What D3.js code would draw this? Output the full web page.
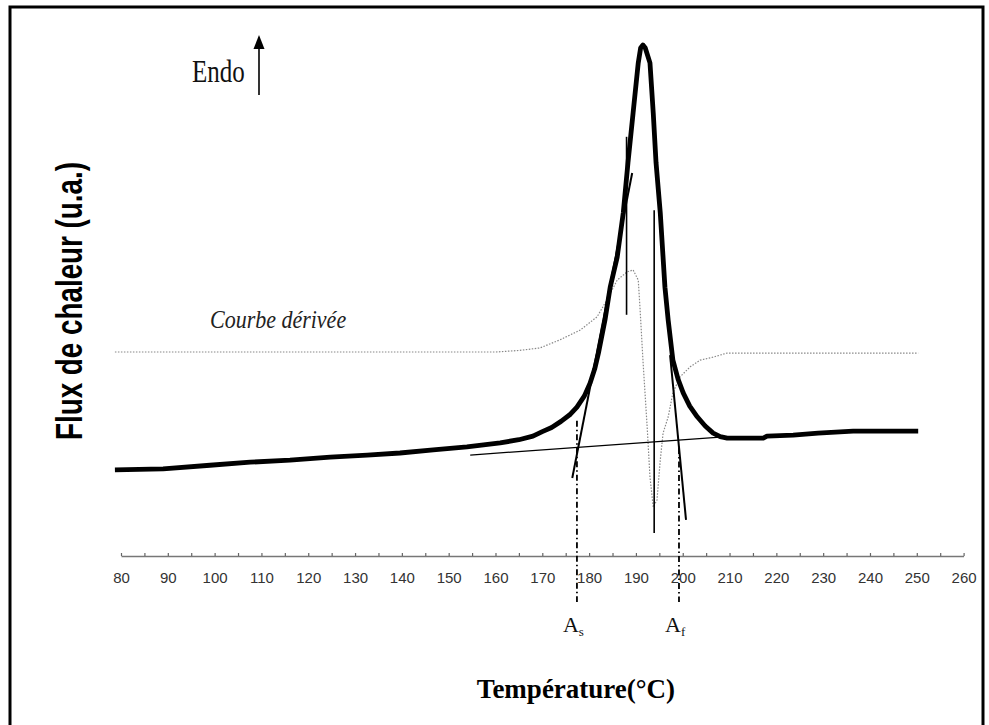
<!DOCTYPE html>
<html><head><meta charset="utf-8">
<script src="https://cdn.jsdelivr.net/npm/d3@7"></script>
<style>body{margin:0;background:#fff}svg{display:block}</style>
</head><body>
<svg id="c" width="989" height="725"></svg>
<script>
// ---- data ----
const tickLabels = [80,90,100,110,120,130,140,150,160,170,180,190,200,210,220,230,240,250,260];
const minorTicks = [85,95,105,115,125,135,145,155,165,175,185,195,205,215,225,235,245,255];

// DSC heat-flow curve (thick)
const mainT = [78.7,89,99,107.6,116.1,124.7,132.6,139.6,146.7,153.9,161,165,168,170,172,174,176,177.4,179,180.2,181.2,182,183.4,184.5,186,187.3,188.3,189.4,190.5,191,191.5,192,193,193.7,194.3,195.2,196.2,196.9,197.9,199,200.1,201.5,203.1,204.8,206.5,208,209.5,212.3,217.2,218,223.6,228.9,236.4,250.3];
const mainV = [16.7,16.9,17.6,18.2,18.6,19.2,19.6,20.0,20.6,21.2,22.0,22.6,23.3,24.2,25.0,26.2,27.6,29.0,31.2,33.7,36.5,39.6,46.1,52.5,58.4,67.1,76.9,86.7,96.5,99.4,100,99.4,96.5,86.7,76.9,67.1,52.5,46.0,38.2,34.5,31.8,29.2,27.1,25.3,23.9,23.2,22.9,22.9,22.9,23.3,23.5,23.9,24.3,24.3];

// derivative curve (dotted)
const derivT = [78.7,160,165,169.5,173.8,178.1,181.7,183.8,186,188.1,189.4,190.5,190.9,191.5,192.4,193,193.7,194.5,195.2,195.8,196.9,197.9,199.4,201.6,203.7,206.5,209.5,212.3,250.3];
const derivV = [39.8,39.8,40.1,40.6,42.2,44.1,46.7,50.0,53.9,55.5,55.9,53.9,48.0,38.2,25.1,15.3,9.4,10.8,18.6,23.9,27.1,31.8,34.9,36.9,38.2,38.8,39.6,39.6,39.6];

// construction lines [T1, v1, T2, v2]
const baselineSeg = [154.6, 19.6, 208, 23.1];
const onsetTangent = [176.4, 15.1, 189.2, 74.9];
const endTangent = [197.3, 39.2, 200.7, 6.9];
const vertLines = [[188, 47.1, 188, 82], [193.9, 4.3, 193.9, 67.6]];
const markerT = [177.4, 199.2];           // As, Af
const markerTop = [26.3, 21.0];
const markerBottom = -9.2;
const markerNames = ["A", "A"];
const markerSubs = ["s", "f"];

// ---- drawing ----
const svg = d3.select("#c");
const x = d3.scaleLinear().domain([80, 260]).range([121, 963.6]);
const y = d3.scaleLinear().domain([0, 100]).range([555, 45]);

svg.append("rect").attr("x", 10).attr("y", 7).attr("width", 973).attr("height", 740)
  .attr("fill", "#fff").attr("stroke", "#000").attr("stroke-width", 3);

// x axis
const axisY = 556;
const allTicks = tickLabels.concat(minorTicks).sort((a,b)=>a-b);
const ax = svg.append("g").attr("transform", `translate(0,${axisY})`)
  .call(d3.axisBottom(x).tickValues(allTicks).tickSizeInner(-3).tickSizeOuter(0).tickPadding(16)
    .tickFormat(d => tickLabels.includes(d) ? d : ""));
ax.select(".domain").attr("stroke", "#777").attr("stroke-width", 1.5);
ax.selectAll(".tick line").attr("stroke", "#666").attr("stroke-width", 1.2);
ax.selectAll(".tick text").attr("fill", "#333").style("font-family", "Liberation Sans, Arial, sans-serif")
  .style("font-size", "15px");

const line = d3.line().x(d => x(d[0])).y(d => y(d[1]));

// derivative curve
svg.append("path").datum(derivT.map((t,i)=>[t, derivV[i]]))
  .attr("d", line).attr("fill", "none").attr("stroke", "#888").attr("stroke-width", 1.2)
  .attr("stroke-dasharray", "1.5,1.5");

function seg(s, w, dash) {
  const p = svg.append("line").attr("x1", x(s[0])).attr("y1", y(s[1])).attr("x2", x(s[2])).attr("y2", y(s[3]))
    .attr("stroke", "#000").attr("stroke-width", w);
  if (dash) p.attr("stroke-dasharray", dash);
  return p;
}
seg(baselineSeg, 1.3);
seg(onsetTangent, 2);
seg(endTangent, 2);
vertLines.forEach(v => seg(v, 1.6));

// main curve
svg.append("path").datum(mainT.map((t,i)=>[t, mainV[i]]))
  .attr("d", line).attr("fill", "none").attr("stroke", "#000").attr("stroke-width", 4.8)
  .attr("stroke-linejoin", "round");

// As / Af markers
markerT.forEach((t, i) => {
  seg([t, markerTop[i], t, markerBottom], 1.8, "6,3,1.5,3");
  const tx = svg.append("text").attr("x", x(t) - 14).attr("y", 632)
    .style("font-family", "Liberation Serif, Times New Roman, serif").style("font-size", "22px").attr("fill", "#111");
  tx.append("tspan").text(markerNames[i]);
  tx.append("tspan").attr("dy", 4).style("font-size", "13px").text(markerSubs[i]);
});

// texts
svg.append("text").attr("transform", "translate(192,82) scale(1,1.25)").text("Endo")
  .style("font-family", "Liberation Serif, Times New Roman, serif").style("font-size", "25px").attr("fill", "#111");
// arrow
svg.append("line").attr("x1", 259).attr("y1", 95).attr("x2", 259).attr("y2", 46).attr("stroke", "#000").attr("stroke-width", 1.6);
svg.append("path").attr("d", "M259,35 L253.5,49 L264.5,49 Z").attr("fill", "#000");

svg.append("text").attr("transform", "translate(210,328) scale(1,1.1)").text("Courbe dérivée")
  .style("font-family", "Liberation Serif, Times New Roman, serif").style("font-style", "italic")
  .style("font-size", "22px").attr("fill", "#222");

svg.append("text").attr("transform", "translate(82,440) rotate(-90)").attr("x", 0).attr("y", 0)
  .attr("textLength", 278).attr("lengthAdjust", "spacingAndGlyphs")
  .text("Flux de chaleur (u.a.)")
  .style("font-family", "Liberation Sans, Arial, sans-serif").style("font-weight", "bold")
  .style("font-size", "36px").attr("fill", "#000");

svg.append("text").attr("x", 576).attr("y", 698).attr("text-anchor", "middle").text("Température(°C)")
  .style("font-family", "Liberation Serif, Times New Roman, serif").style("font-weight", "bold")
  .style("font-size", "27px").attr("fill", "#000");
</script>
</body></html>
